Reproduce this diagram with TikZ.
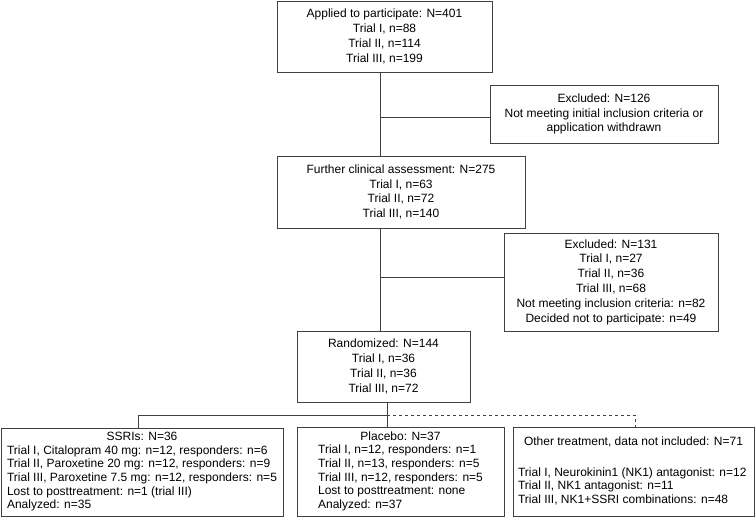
\documentclass[tikz,border=0pt]{standalone}
\usepackage{fontspec}
\setmainfont{Liberation Sans}
\usepackage{array}
\tikzset{
  topbox/.style={draw=black!75, line width=0.8pt, rectangle, inner sep=0pt, align=center,
    font=\fontsize{12}{14.8}\selectfont},
  armbox/.style={draw=black!75, line width=0.8pt, rectangle, inner sep=0pt,
    font=\fontsize{12}{13.6}\selectfont},
  link/.style={draw=black!75, line width=0.8pt},
}
\begin{document}
\begin{tikzpicture}[x=1pt, y=-1pt]
                \useasboundingbox (0,0) rectangle (756,526);
                % Nodes
                \node[topbox, minimum width=215pt, minimum height=71pt] (appl) at (384.5, 36.5)
                  {Applied to participate: N=401\\Trial I, n=88\\Trial II, n=114\\Trial III, n=199};
                \node[topbox, minimum width=228pt, minimum height=58pt] (excl1) at (604, 114)
                  {Excluded: N=126\\Not meeting initial inclusion criteria or\\application withdrawn};
                \node[topbox, minimum width=248pt, minimum height=72pt] (further) at (401, 192)
                  {Further clinical assessment: N=275\\Trial I, n=63\\Trial II, n=72\\Trial III, n=140};
                \node[topbox, minimum width=214pt, minimum height=98pt] (excl2) at (611, 282)
                  {Excluded: N=131\\Trial I, n=27\\Trial II, n=36\\Trial III, n=68\\Not meeting inclusion criteria: n=82\\Decided not to participate: n=49};
                \node[topbox, minimum width=173pt, minimum height=71pt] (rand) at (383.5, 366.5)
                  {Randomized: N=144\\Trial I, n=36\\Trial II, n=36\\Trial III, n=72};
                \node[armbox, minimum width=282pt, minimum height=88pt] (ssri) at (142, 472)
                  {\begin{tabular}{@{}l@{}}\multicolumn{1}{c}{SSRIs: N=36}\\
                   Trial I, Citalopram 40 mg: n=12, responders: n=6\\
                   Trial II, Paroxetine 20 mg: n=12, responders: n=9\\
                   Trial III, Paroxetine 7.5 mg: n=12, responders: n=5\\
                   Lost to posttreatment: n=1 (trial III)\\
                   Analyzed: n=35\end{tabular}};
                \node[armbox, minimum width=207pt, minimum height=89pt] (plac) at (400.5, 471.5)
                  {\begin{tabular}{@{}l@{}}\multicolumn{1}{c}{Placebo: N=37}\\
                   Trial I, n=12, responders: n=1\\
                   Trial II, n=13, responders: n=5\\
                   Trial III, n=12, responders: n=5\\
                   Lost to posttreatment: none\\
                   Analyzed: n=37\end{tabular}};
                \node[armbox, minimum width=241pt, minimum height=89pt] (other) at (633.5, 471.5)
                  {\begin{tabular}{@{}l@{}}\multicolumn{1}{c}{Other treatment, data not included: N=71}\\[4pt]
                   \\
                   Trial I, Neurokinin1 (NK1) antagonist: n=12\\
                   Trial II, NK1 antagonist: n=11\\
                   Trial III, NK1+SSRI combinations: n=48\end{tabular}};
                % Junctions
                \coordinate (j1) at (380, 117);
                \coordinate (j2) at (380, 277);
                \coordinate (bus) at (387, 415);
                \coordinate (busl) at (138, 415);
                \coordinate (busr) at (635, 415);
                % Edges
                \draw[link] (j1 |- appl.south) -- (j1 |- further.north);
                \draw[link] (j1) -- (j1 -| excl1.west);
                \draw[link] (j2 |- further.south) -- (j2 |- rand.north);
                \draw[link] (j2) -- (j2 -| excl2.west);
                \draw[link] (bus |- rand.south) -- (bus |- plac.north);
                \draw[link] (busl |- ssri.north) -- (busl) -- (bus);
                \draw[link, dashed] (bus) -- (busr) -- (busr |- other.north);
            \end{tikzpicture}
\end{document}
